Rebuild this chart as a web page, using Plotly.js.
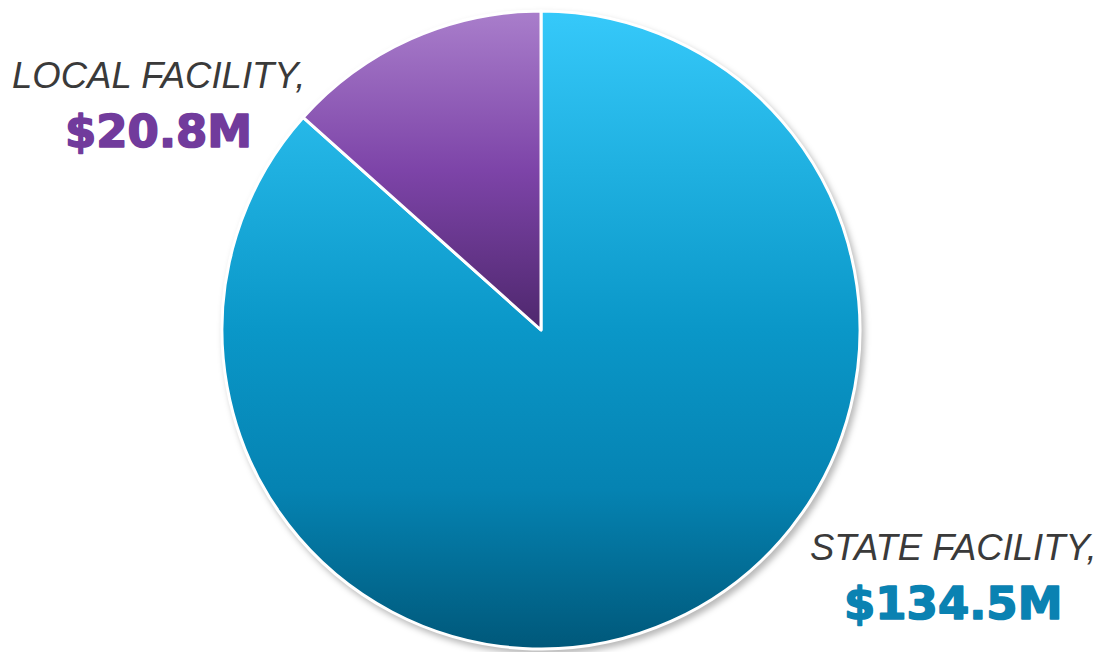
<!DOCTYPE html>
<html>
<head>
<meta charset="utf-8">
<script src="https://cdn.plot.ly/plotly-3.0.1.min.js"></script>
<style>
html,body{margin:0;padding:0;background:#fff;}
#chart{width:1107px;height:652px;}
.pielayer{filter:drop-shadow(3px 4px 3px rgba(0,0,0,0.28));}
</style>
</head>
<body>
<div id="chart"></div>
<script>
// Data
const labels = ['STATE FACILITY', 'LOCAL FACILITY'];
const values = [134.5, 20.8];
const valueColors = ['#0a82b2', '#713b9c'];
const gradStops = [
  [[0, '#36c9fa'], [0.25, '#1fb0e0'], [0.5, '#0a97c8'], [0.75, '#0583b2'], [1, '#00587a']],
  [[0, '#a97ecb'], [0.5, '#7d44a8'], [1, '#4e276d']]
];

const W = 1107, H = 652;
function py(p){ return 1 - p / H; }
function px(p){ return p / W; }

const labelPos = [
  {x: 953, yName: 547, yVal: 603},
  {x: 158, yName: 75, yVal: 132}
];

const annotations = [];
labels.forEach((lab, i) => {
  annotations.push({
    text: lab + ',', xref: 'paper', yref: 'paper',
    x: px(labelPos[i].x), y: py(labelPos[i].yName),
    xanchor: 'center', yanchor: 'middle', showarrow: false,
    font: {family: 'Liberation Sans, Arial, sans-serif', size: 36.5, color: '#3a3a3a', style: 'italic'}
  });
  annotations.push({
    text: '<b>$' + values[i].toFixed(1) + 'M</b>', xref: 'paper', yref: 'paper',
    x: px(labelPos[i].x), y: py(labelPos[i].yVal),
    xanchor: 'center', yanchor: 'middle', showarrow: false,
    font: {family: 'DejaVu Sans, sans-serif', size: 45, color: valueColors[i], weight: 'bold'}
  });
});

const cx = 541, cy = 330, r = 319;
const trace = {
  type: 'pie',
  labels: labels,
  values: values,
  sort: false,
  direction: 'clockwise',
  rotation: 0,
  textinfo: 'none',
  hoverinfo: 'none',
  showlegend: false,
  marker: {colors: ['#0a90c0', '#7a449e'], line: {color: '#ffffff', width: 3}},
  domain: {x: [px(cx - r - 2), px(cx + r + 2)], y: [py(cy + r), py(cy - r)]}
};

const layout = {
  width: W, height: H,
  margin: {l: 0, r: 0, t: 0, b: 0},
  paper_bgcolor: '#ffffff',
  plot_bgcolor: '#ffffff',
  showlegend: false,
  annotations: annotations
};

function applyStyling(){
  const gd = document.getElementById('chart');
  const svg = gd.querySelector('svg.main-svg');
  if(!svg) return;
  const ns = 'http://www.w3.org/2000/svg';
  let defs = svg.querySelector('defs');
  if(!defs){ defs = document.createElementNS(ns,'defs'); svg.insertBefore(defs, svg.firstChild); }
  gradStops.forEach((stops, i) => {
    const id = 'sliceGrad' + i;
    if(defs.querySelector('#' + id)) return;
    const g = document.createElementNS(ns, 'linearGradient');
    g.setAttribute('id', id);
    g.setAttribute('x1', '0'); g.setAttribute('y1', '0');
    g.setAttribute('x2', '0'); g.setAttribute('y2', '1');
    stops.forEach(s => {
      const st = document.createElementNS(ns, 'stop');
      st.setAttribute('offset', s[0]); st.setAttribute('stop-color', s[1]);
      g.appendChild(st);
    });
    defs.appendChild(g);
  });
  gd.querySelectorAll('.slice path.surface').forEach((p, i) => {
    p.style.fill = 'url(#sliceGrad' + i + ')';
  });
  // heavier value labels
  gd.querySelectorAll('.annotation-text').forEach(t => {
    if(t.textContent.indexOf('$') === 0){
      const c = t.style.fill || getComputedStyle(t).fill;
      t.style.stroke = c;
      t.style.strokeWidth = '1.6px';
      t.style.strokeLinejoin = 'round';
    }
  });
}

Plotly.newPlot('chart', [trace], layout, {displayModeBar: false, staticPlot: true}).then(applyStyling);
</script>
</body>
</html>
